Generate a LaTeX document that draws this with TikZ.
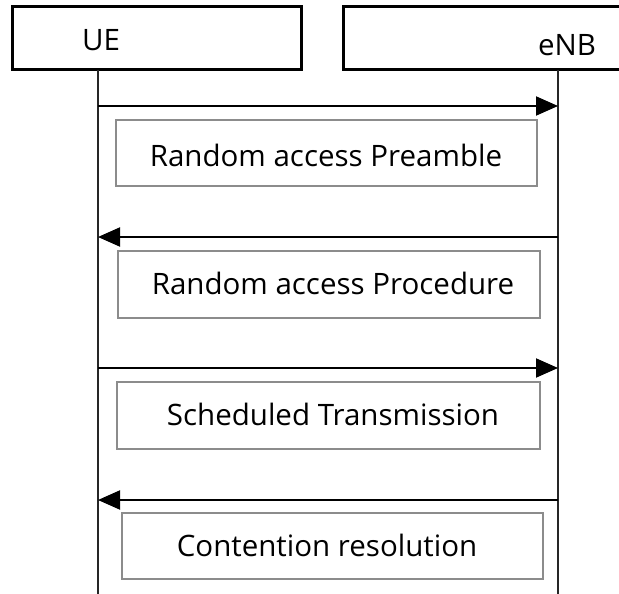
\documentclass[tikz,border=0pt]{standalone}
\usepackage{fontspec}
\setmainfont{Open Sans}
\usetikzlibrary{arrows.meta}
\begin{document}
\begin{tikzpicture}[x=1pt,y=-1pt,
  hdr/.style={draw=black,line width=3pt,fill=none},
  life/.style={draw=black!85,line width=2pt},
  msg/.style={draw=black,line width=2pt,-{Triangle[length=22pt,width=19pt]}},
  msgbox/.style={draw=black!45,line width=1.3pt},
  lbl/.style={font=\fontsize{29.5}{34}\selectfont,text=black,inner sep=0pt}]
\useasboundingbox (0,0) rectangle (619,594);
\clip (0,0) rectangle (619,594);
% header boxes
\draw[hdr] (12,7) rectangle (301,70);
\draw[hdr] (343,7) rectangle (630,70);
\node[lbl] (ue) at (101,40) {UE};
\node[lbl] (enb) at (567,45) {eNB};
% lifelines
\coordinate (ueTop) at (98,70);
\coordinate (ueBot) at (98,600);
\coordinate (enbTop) at (558,70);
\coordinate (enbBot) at (558,600);
\draw[life] (ueTop) -- (ueBot);
\draw[life] (enbTop) -- (enbBot);
% messages
\coordinate (a1s) at (98,106);  \coordinate (a1e) at (558,106);
\coordinate (a2s) at (558,237); \coordinate (a2e) at (98,237);
\coordinate (a3s) at (98,368);  \coordinate (a3e) at (558,368);
\coordinate (a4s) at (558,500); \coordinate (a4e) at (98,500);
\draw[msg] (a1s) -- (a1e);
\draw[msg] (a2s) -- (a2e);
\draw[msg] (a3s) -- (a3e);
\draw[msg] (a4s) -- (a4e);
% message boxes
\draw[msgbox] (116,120) rectangle (537,186);
\node[lbl] (t1) at (326,155) {Random access Preamble};
\draw[msgbox] (118,251) rectangle (540,318);
\node[lbl] (t2) at (333,283) {Random access Procedure};
\draw[msgbox] (117,382) rectangle (540,449);
\node[lbl] (t3) at (333,414) {Scheduled Transmission};
\draw[msgbox] (122,513) rectangle (543,579);
\node[lbl] (t4) at (327,545) {Contention resolution};
\end{tikzpicture}
\end{document}
